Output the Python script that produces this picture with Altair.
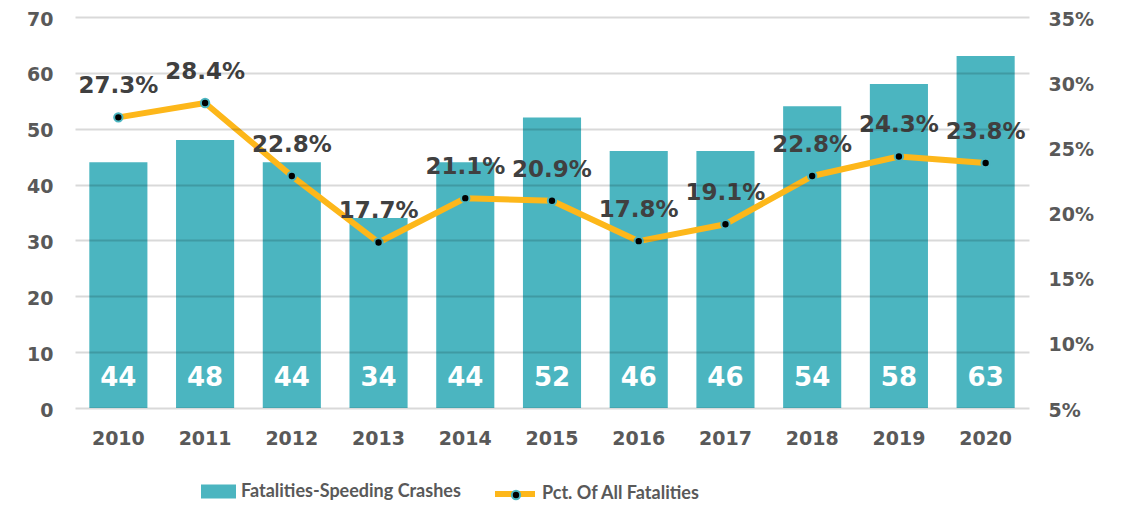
import altair as alt
import pandas as pd

years = ["2010", "2011", "2012", "2013", "2014", "2015", "2016", "2017", "2018", "2019", "2020"]
fatalities = [44, 48, 44, 34, 44, 52, 46, 46, 54, 58, 63]
pct = [27.3, 28.4, 22.8, 17.7, 21.1, 20.9, 17.8, 19.1, 22.8, 24.3, 23.8]
left_ticks = [0, 10, 20, 30, 40, 50, 60, 70]
right_ticks = [5, 10, 15, 20, 25, 30, 35]
bar_series = "Fatalities-Speeding Crashes"
line_series = "Pct. Of All Fatalities"
point_series = "Pct. Of All Fatalities "

TEAL = "#4BB5C0"
ORANGE = "#FDB71A"
AXIS_GREY = "#595959"
LABEL_DARK = "#404040"
NUM_FONT = "DejaVu Sans"
LEG_FONT = "Lato"

df = pd.DataFrame({
    "year": years,
    "fatalities": fatalities,
    "pct": pct,
    "bar_series": bar_series,
    "line_series": line_series,
    "point_series": point_series,
})
df["pct_label"] = [f"{v:.1f}%" for v in pct]

base = alt.Chart(df)

axis_font = dict(labelFontSize=19, labelFontWeight="bold", labelColor=AXIS_GREY, labelFont=NUM_FONT)

x = alt.X(
    "year:N", sort=years,
    scale=alt.Scale(paddingInner=0.33, paddingOuter=0.165),
    axis=alt.Axis(title=None, labelPadding=21, ticks=False, domain=False, grid=False,
                  labelAngle=0, **axis_font),
)

y_left = alt.Y(
    "fatalities:Q",
    scale=alt.Scale(domain=[0, 70], nice=False, zero=True),
    axis=alt.Axis(title=None, values=left_ticks, orient="left", grid=True, gridColor="black",
                  gridOpacity=0.15, gridWidth=2, ticks=False, domain=False,
                  labelPadding=22, labelOffset=2, zindex=1, **axis_font),
)

legend_common = dict(orient="none", title=None, labelFontSize=18, labelFontWeight="bold",
                     labelColor=AXIS_GREY, labelFont=LEG_FONT, padding=0, labelLimit=500)

bars = base.mark_bar().encode(
    x=x,
    y=y_left,
    color=alt.Color("bar_series:N", scale=alt.Scale(domain=[bar_series], range=[TEAL]),
                    legend=alt.Legend(legendX=126, legendY=457,
                                      symbolType="M-1,-0.4L1,-0.4L1,0.4L-1,0.4Z",
                                      symbolSize=1225, symbolStrokeWidth=0, labelOffset=5,
                                      **legend_common)),
)

bar_labels = base.mark_text(color="white", fontSize=26, fontWeight="bold", font=NUM_FONT,
                            baseline="middle", dy=-30).encode(
    x=x,
    y=alt.datum(0),
    text=alt.Text("fatalities:Q"),
)

left = alt.layer(bars, bar_labels)

y_right = alt.Y(
    "pct:Q",
    scale=alt.Scale(domain=[5, 35], nice=False, zero=False),
    axis=alt.Axis(title=None, values=right_ticks, orient="right", grid=False, ticks=False,
                  domain=False, labelPadding=19, labelOffset=2,
                  labelExpr="datum.value + '%'", **axis_font),
)

line = base.mark_line(strokeWidth=6, strokeCap="round", strokeJoin="round").encode(
    x=x,
    y=y_right,
    stroke=alt.Stroke("line_series:N", scale=alt.Scale(domain=[line_series], range=[ORANGE]),
                      legend=alt.Legend(legendX=417, legendY=454, symbolType="stroke",
                                        symbolSize=1600, symbolStrokeWidth=6, labelOffset=4,
                                        zindex=1, **legend_common)),
)

points = base.mark_point(filled=True, size=70, stroke=TEAL, strokeWidth=2, opacity=1,
                         shape="circle").encode(
    x=x,
    y=y_right,
    fill=alt.Fill("point_series:N", scale=alt.Scale(domain=[point_series], range=["black"]),
                  legend=alt.Legend(legendX=432, legendY=469, symbolType="circle",
                                    symbolSize=70, symbolStrokeColor=TEAL, symbolStrokeWidth=2,
                                    labelExpr="''", zindex=2, **legend_common)),
)

pct_labels = base.mark_text(color=LABEL_DARK, fontSize=23, fontWeight="bold", font=NUM_FONT,
                            baseline="middle", dy=-31).encode(
    x=x,
    y=y_right,
    text="pct_label:N",
)

right = alt.layer(line, points, pct_labels)

chart = alt.layer(left, right).resolve_scale(y="independent").properties(
    width=954,
    height=391,
    autosize=alt.AutoSizeParams(type="none"),
    padding={"left": 67, "top": 9, "right": 91, "bottom": 100},
).configure_view(stroke=None)

chart.save("out.html", embed_options={"renderer": "svg", "actions": False})
